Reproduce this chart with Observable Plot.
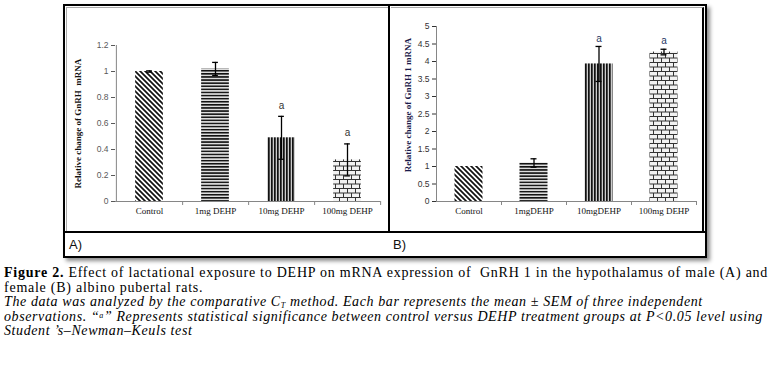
<!DOCTYPE html>
<html><head><meta charset="utf-8">
<script src="https://cdn.jsdelivr.net/npm/d3@7"></script>
<script src="https://cdn.jsdelivr.net/npm/@observablehq/plot@0.6"></script>
<style>
html,body{margin:0;padding:0;background:#fff}
body{width:777px;height:366px;overflow:hidden;position:relative;font-family:"Liberation Serif",serif}
.abs{position:absolute}
#frame{left:63px;top:4px;width:640px;height:250px;border:2px solid #000;box-shadow:3px 3px 4px rgba(0,0,0,.45)}
#hline{left:64px;top:231px;width:642px;height:2px;background:#000}
#vline{left:388px;top:5px;width:2px;height:227px;background:#000}
#innerA{left:66px;top:7px;width:321px;height:223px;border-left:1px solid #aaa;border-top:1px solid #aaa}
#innerB{left:391px;top:7px;width:311px;height:223px;border-top:1px solid #aaa;border-right:2px solid #000;border-bottom:1px solid #000}
.plab{font-family:"Liberation Sans",Arial,sans-serif;font-size:13px;color:#111}
#chartA{left:67px;top:8px}
#chartB{left:393px;top:8px}
#cap{left:4px;top:266px;font-size:14px;line-height:14.5px;letter-spacing:0.75px;color:#000;white-space:nowrap}
#cap i{letter-spacing:0.6px}
#cap .sb{font-size:8px;vertical-align:-2px;line-height:0}
#cap .sp{font-size:8px;vertical-align:3px;line-height:0}
</style></head>
<body>
<svg width="0" height="0" style="position:absolute">
<defs>
<pattern id="pDiag" patternUnits="userSpaceOnUse" width="5" height="5">
<rect width="5" height="5" fill="#fff"/>
<path d="M-1,-1L6,6M-1,4L1,6M4,-1L6,1" stroke="#111" stroke-width="1.7"/>
</pattern>
<pattern id="pHoriz" patternUnits="userSpaceOnUse" width="4" height="3.1">
<rect width="4" height="3.1" fill="#ddd"/>
<rect y="0" width="4" height="1.5" fill="#111"/>
</pattern>
<pattern id="pVert" patternUnits="userSpaceOnUse" width="3" height="4">
<rect width="3" height="4" fill="#ccc"/>
<rect x="0" width="1.7" height="4" fill="#111"/>
</pattern>
<pattern id="pBrick" patternUnits="userSpaceOnUse" width="8" height="9">
<rect width="8" height="9" fill="#f2f2f2"/>
<path d="M0,0.5H8M0,5H8M0.5,0V5M4.5,5V9" stroke="#333" stroke-width="1" fill="none"/>
</pattern>
</defs>
</svg>
<div id="frame" class="abs"></div>
<div id="innerA" class="abs"></div>
<div id="innerB" class="abs"></div>
<div id="hline" class="abs"></div>
<div id="vline" class="abs"></div>
<div id="chartA" class="abs"></div>
<div id="chartB" class="abs"></div>
<div class="abs plab" style="left:69px;top:237px">A)</div>
<div class="abs plab" style="left:393px;top:237px">B)</div>
<div id="cap" class="abs">
<div><b>Figure 2.</b> Effect of lactational exposure to DEHP on mRNA expression of&nbsp; GnRH 1 in the hypothalamus of male (A) and</div>
<div>female (B) albino pubertal rats.</div>
<div><i>The data was analyzed by the comparative C<span class="sb">T</span> method. Each bar represents the mean ± SEM of three independent</i></div>
<div><i>observations. “<span class="sp">a</span>” Represents statistical significance between control versus DEHP treatment groups at P&lt;0.05 level using</i></div>
<div><i>Student ’s–Newman–Keuls test</i></div>
</div>
<script>
// ---- data ----
const groupsA = ["Control", "1mg DEHP", "10mg DEHP", "100mg DEHP"];
const meanA = [1.0, 1.02, 0.49, 0.32];
const semA = [0.005, 0.05, 0.165, 0.123];
const sigA = ["", "", "a", "a"];
const ticksA = [0, 0.2, 0.4, 0.6, 0.8, 1, 1.2];
const labelA = "Relative change of GnRH  mRNA";

const groupsB = ["Control", "1mgDEHP", "10mgDEHP", "100mg DEHP"];
const meanB = [1.0, 1.1, 3.93, 4.27];
const semB = [0, 0.12, 0.5, 0.08];
const sigB = ["", "", "a", "a"];
const ticksB = [0, 0.5, 1, 1.5, 2, 2.5, 3, 3.5, 4, 4.5, 5];
const labelB = "Relative change of GnRH 1 mRNA";

const fills = ["url(#pDiag)", "url(#pHoriz)", "url(#pVert)", "url(#pBrick)"];

function chart(groups, mean, sem, sig, ticks, cfg) {
  const rows = groups.map((g, i) => ({g, v: mean[i], e: sem[i], s: sig[i], f: fills[i]}));
  const errs = rows.filter(d => d.e > 0);
  const step = (cfg.width - cfg.ml - cfg.mr) / groups.length;
  const barIns = (step - 28) / 2;
  const capIns = (step - 6) / 2;
  return Plot.plot({
    width: cfg.width, height: cfg.height,
    marginLeft: cfg.ml, marginRight: cfg.mr, marginTop: cfg.mt, marginBottom: cfg.mb,
    style: {background: "transparent", overflow: "visible"},
    x: {type: "band", domain: groups, padding: 0, axis: null},
    y: {domain: [0, ticks[ticks.length - 1]], axis: null},
    color: {type: "identity"},
    marks: [
      Plot.barY(rows, {x: "g", y: "v", fill: "f", insetLeft: barIns, insetRight: barIns}),
      Plot.ruleY([0], {stroke: "#868686"}),
      Plot.ruleX([groups[0]], {dx: -step / 2, stroke: "#868686"}),
      Plot.axisX({ticks: groups, tickSize: 4, dx: step / 2, tickFormat: () => "", color: "#868686", label: null}),
      Plot.axisX({ticks: groups, tickSize: 0, tickPadding: 6, fontFamily: "Liberation Serif", fontSize: 9, color: "#111", label: null}),
      Plot.axisY({ticks, tickSize: 4, tickPadding: 3, tickFormat: d => String(d), fontFamily: "Liberation Sans", fontSize: 8.5, color: cfg.tickColor, label: null}),
      Plot.ruleX(errs, {x: "g", y1: d => d.v - d.e, y2: d => d.v + d.e, stroke: "#000", strokeWidth: 1.3}),
      Plot.tickY(errs, {x: "g", y: d => d.v + d.e, insetLeft: capIns, insetRight: capIns, stroke: "#000", strokeWidth: 1.3}),
      Plot.tickY(errs, {x: "g", y: d => d.v - d.e, insetLeft: capIns, insetRight: capIns, stroke: "#000", strokeWidth: 1.3}),
      Plot.text(rows.filter(d => d.s), {x: "g", y: d => d.v + d.e, text: "s", dy: cfg.sigDy, fontFamily: "Liberation Sans", fontSize: 10, fill: cfg.sigColor}),
      Plot.text([cfg.label], {frameAnchor: "left", textAnchor: "middle", rotate: -90, dx: cfg.labelDx, dy: cfg.labelDy, fontFamily: "Liberation Serif", fontWeight: "bold", fontSize: 9, fill: cfg.labelColor})
    ]
  });
}

document.getElementById("chartA").append(chart(groupsA, meanA, semA, sigA, ticksA, {
  width: 320, height: 224, ml: 48, mr: 7, mt: 37, mb: 31,
  tickColor: "#595959", sigColor: "#333", sigDy: -11, label: labelA, labelDx: -37, labelDy: 0, labelColor: "#111"
}));
document.getElementById("chartB").append(chart(groupsB, meanB, semB, sigB, ticksB, {
  width: 310, height: 224, ml: 43, mr: 7, mt: 18, mb: 31,
  tickColor: "#333", sigColor: "#1f3864", sigDy: -8, label: labelB, labelDx: -28, labelDy: -9, labelColor: "#1a1a4a"
}));
</script>
</body></html>
